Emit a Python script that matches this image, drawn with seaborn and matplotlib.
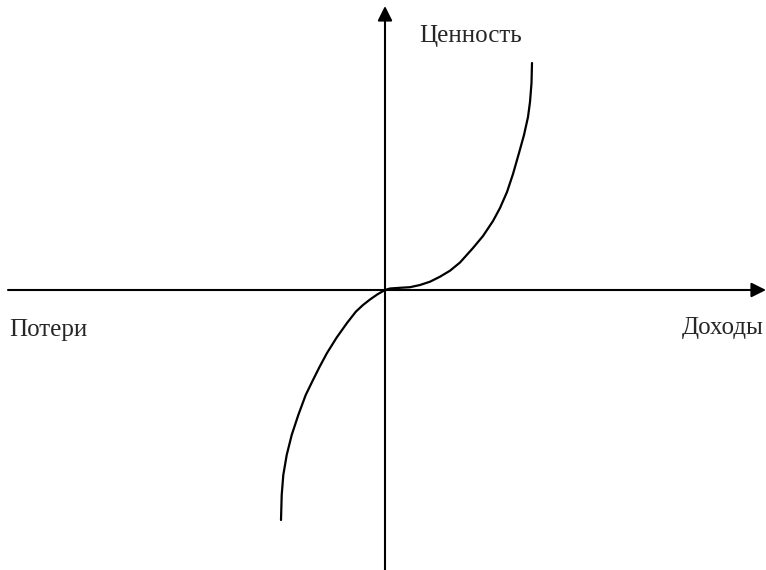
import matplotlib
matplotlib.use("Agg")
import matplotlib.pyplot as plt
import seaborn as sns
import pandas as pd

sns.set_theme(style="white")
plt.rcParams['font.family'] = ['Liberation Serif', 'DejaVu Serif']

# кривая ценности (координаты в пикселях картинки, ось y вниз)
gain_x = [385, 390, 400, 410, 420, 430, 440, 450, 460, 473, 483, 493, 500, 507, 513, 519, 524, 528, 530, 531.5, 532]
gain_y = [290, 288.5, 287.8, 287.2, 285, 281.7, 276.7, 270.7, 262.5, 248, 236, 221, 208, 192, 174, 153, 135, 117, 102, 83, 63]
loss_x = [281, 281.7, 283.3, 286.7, 291.7, 298.3, 305.7, 312.5, 319.5, 327, 336.7, 347, 356, 363, 370, 377.5, 385]
loss_y = [520, 495, 475, 455, 435, 415, 395, 381, 367, 353, 337.5, 323, 311.5, 305, 299.5, 294.3, 290]

origin = (385, 290)
x_axis = (8, 766)
y_axis = (570, 6)

labels = {"value": "Ценность", "loss": "Потери", "gain": "Доходы"}

curve = pd.concat([
    pd.DataFrame({"x": loss_x, "y": loss_y, "part": "loss"}),
    pd.DataFrame({"x": gain_x, "y": gain_y, "part": "gain"}),
])

fig = plt.figure(figsize=(7.66, 5.70), dpi=100)
ax = fig.add_axes([0, 0, 1, 1])
ax.set_xlim(0, 766)
ax.set_ylim(570, 0)
ax.axis("off")

sns.lineplot(data=curve, x="x", y="y", units="part", estimator=None, sort=False,
             color="black", lw=1.6, solid_joinstyle="round", ax=ax)

arrow = dict(arrowstyle="-|>", color="black", lw=1.5, mutation_scale=22, shrinkA=0, shrinkB=0)
ax.annotate("", xy=(x_axis[1], origin[1]), xytext=(x_axis[0], origin[1]), arrowprops=arrow)
ax.annotate("", xy=(origin[0], y_axis[1]), xytext=(origin[0], y_axis[0]), arrowprops=arrow)

ax.text(419, 36, labels["value"], fontsize=18, va="center", ha="left")
ax.text(9, 330, labels["loss"], fontsize=18, va="center", ha="left")
ax.text(764, 328, labels["gain"], fontsize=18, va="center", ha="right")

fig.savefig("out.png", dpi=100)
